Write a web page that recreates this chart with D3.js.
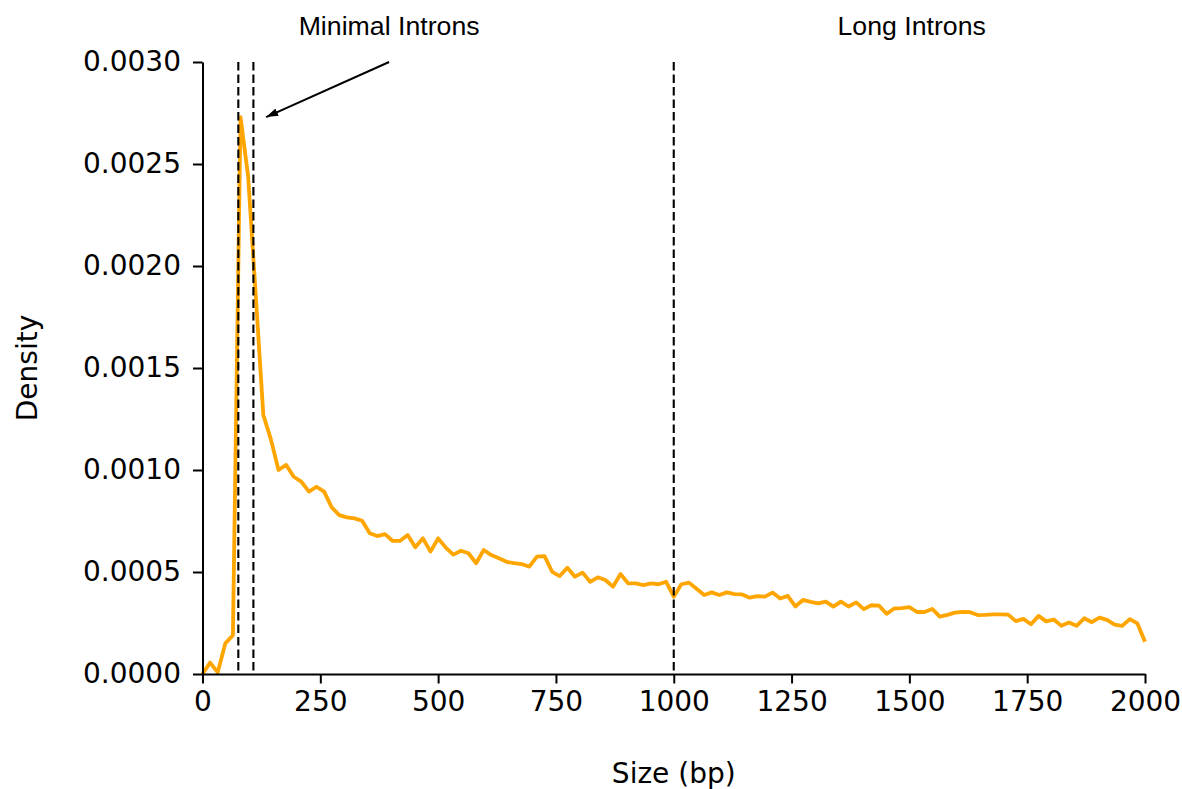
<!DOCTYPE html>
<html>
<head>
<meta charset="utf-8">
<script src="https://cdn.jsdelivr.net/npm/d3@7"></script>
<style>
  html, body { margin: 0; padding: 0; background: #fff; }
  svg { display: block; }
</style>
</head>
<body>
<svg id="chart" width="1182" height="789"></svg>
<script>
// Intron size distribution: density evaluated on an even grid from 0 to 2000 bp (125 points)
const sizeMin = 0;
const sizeMax = 2000;
const densityValues = [
  0.000000, 0.000056, 0.000008, 0.000150, 0.000190, 0.002730, 0.002440, 0.001860, 0.001270, 0.001150,
  0.001000, 0.001025, 0.000967, 0.000943, 0.000894, 0.000918, 0.000894, 0.000817, 0.000779, 0.000768,
  0.000763, 0.000751, 0.000690, 0.000676, 0.000686, 0.000653, 0.000653, 0.000681, 0.000621, 0.000665,
  0.000600, 0.000665, 0.000620, 0.000585, 0.000604, 0.000592, 0.000543, 0.000608, 0.000583, 0.000567,
  0.000550, 0.000543, 0.000539, 0.000526, 0.000575, 0.000578, 0.000501, 0.000480, 0.000521, 0.000477,
  0.000497, 0.000452, 0.000474, 0.000461, 0.000428, 0.000490, 0.000444, 0.000444, 0.000436, 0.000444,
  0.000440, 0.000452, 0.000379, 0.000440, 0.000448, 0.000418, 0.000387, 0.000400, 0.000387, 0.000400,
  0.000392, 0.000390, 0.000374, 0.000382, 0.000379, 0.000399, 0.000370, 0.000383, 0.000331, 0.000363,
  0.000354, 0.000346, 0.000355, 0.000330, 0.000355, 0.000331, 0.000351, 0.000318, 0.000337, 0.000335,
  0.000295, 0.000321, 0.000323, 0.000328, 0.000304, 0.000304, 0.000319, 0.000281, 0.000290, 0.000301,
  0.000305, 0.000303, 0.000289, 0.000290, 0.000292, 0.000292, 0.000291, 0.000259, 0.000270, 0.000244,
  0.000285, 0.000258, 0.000267, 0.000236, 0.000252, 0.000236, 0.000273, 0.000254, 0.000276, 0.000265,
  0.000242, 0.000236, 0.000269, 0.000248, 0.000158
];

const xTickValues = [0, 250, 500, 750, 1000, 1250, 1500, 1750, 2000];
const yTickValues = [0, 0.0005, 0.0010, 0.0015, 0.0020, 0.0025, 0.0030];

// Size thresholds (bp) marked with dashed lines
const thresholds = [76, 108, 1000];

// Region labels and the arrow pointing at the minimal-intron peak (data coordinates)
const regionNames = ["Minimal Introns", "Long Introns"];
const regionLabelSizes = [396, 1505];
const regionLabelDensity = 0.00313;
const arrowTail = [396, 0.0030];
const arrowHead = [135, 0.00273];

const xAxisTitle = "Size (bp)";
const yAxisTitle = "Density";

// ---------------------------------------------------------------------------
const svg = d3.select("#chart");
const W = 1182, H = 789;
const plot = { left: 202.5, right: 1145, top: 62, bottom: 674 };
const tickFont = "'DejaVu Sans', sans-serif";
const noteFont = "'Liberation Sans', Arial, sans-serif";
const tickSize = "28px";

svg.append("rect").attr("width", W).attr("height", H).attr("fill", "#fff");

const x = d3.scaleLinear().domain([sizeMin, sizeMax]).range([plot.left, plot.right]);
const y = d3.scaleLinear().domain([0, 0.003]).range([plot.bottom, plot.top]);

const step = (sizeMax - sizeMin) / (densityValues.length - 1);
const points = densityValues.map((v, i) => [sizeMin + i * step, v]);

// Density curve
svg.append("path")
  .datum(points)
  .attr("fill", "none")
  .attr("stroke", "#FFA500")
  .attr("stroke-width", 3.8)
  .attr("stroke-linejoin", "round")
  .attr("d", d3.line().x(d => x(d[0])).y(d => y(d[1])));

// Threshold lines
svg.append("g").selectAll("line")
  .data(thresholds)
  .join("line")
  .attr("x1", d => x(d)).attr("x2", d => x(d))
  .attr("y1", y(0.003)).attr("y2", y(0))
  .attr("stroke", "#000")
  .attr("stroke-width", 2.1)
  .attr("stroke-dasharray", "8.5,4");

// Axes
const xAxis = d3.axisBottom(x)
  .tickValues(xTickValues)
  .tickFormat(d3.format("d"))
  .tickSizeInner(9.5).tickSizeOuter(0).tickPadding(8);
const yAxis = d3.axisLeft(y)
  .tickValues(yTickValues)
  .tickFormat(d => d.toFixed(4))
  .tickSizeInner(9.5).tickSizeOuter(0).tickPadding(12);

const gx = svg.append("g").attr("transform", `translate(0,${plot.bottom})`).call(xAxis);
const gy = svg.append("g").attr("transform", `translate(${plot.left},0)`).call(yAxis);

[gx, gy].forEach(g => {
  g.select(".domain").attr("stroke", "#000").attr("stroke-width", 2);
  g.selectAll(".tick line").attr("stroke", "#000").attr("stroke-width", 2);
  g.selectAll(".tick text")
    .attr("fill", "#000")
    .style("font-family", tickFont)
    .style("font-size", tickSize);
});

// Axis titles
svg.append("text")
  .attr("x", (plot.left + plot.right) / 2)
  .attr("y", 783)
  .attr("text-anchor", "middle")
  .style("font-family", tickFont)
  .style("font-size", tickSize)
  .attr("fill", "#000")
  .text(xAxisTitle);

svg.append("text")
  .attr("transform", `translate(37,${(plot.top + plot.bottom) / 2}) rotate(-90)`)
  .attr("text-anchor", "middle")
  .style("font-family", tickFont)
  .style("font-size", tickSize)
  .attr("fill", "#000")
  .text(yAxisTitle);

// Region labels
svg.append("g").selectAll("text")
  .data(regionNames)
  .join("text")
  .attr("x", (d, i) => x(regionLabelSizes[i]))
  .attr("y", y(regionLabelDensity))
  .attr("text-anchor", "middle")
  .style("font-family", noteFont)
  .style("font-size", "26.7px")
  .attr("fill", "#000")
  .text(d => d);

// Arrow to the minimal-intron peak
svg.append("defs").append("marker")
  .attr("id", "arrowhead")
  .attr("viewBox", "0 0 12 8")
  .attr("refX", 12).attr("refY", 4)
  .attr("markerWidth", 12).attr("markerHeight", 8)
  .attr("markerUnits", "userSpaceOnUse")
  .attr("orient", "auto")
  .append("path")
  .attr("d", "M0,0 L12,4 L0,8 Z")
  .attr("fill", "#000");

svg.append("line")
  .attr("x1", x(arrowTail[0])).attr("y1", y(arrowTail[1]))
  .attr("x2", x(arrowHead[0])).attr("y2", y(arrowHead[1]))
  .attr("stroke", "#000")
  .attr("stroke-width", 2)
  .attr("marker-end", "url(#arrowhead)");
</script>
</body>
</html>
